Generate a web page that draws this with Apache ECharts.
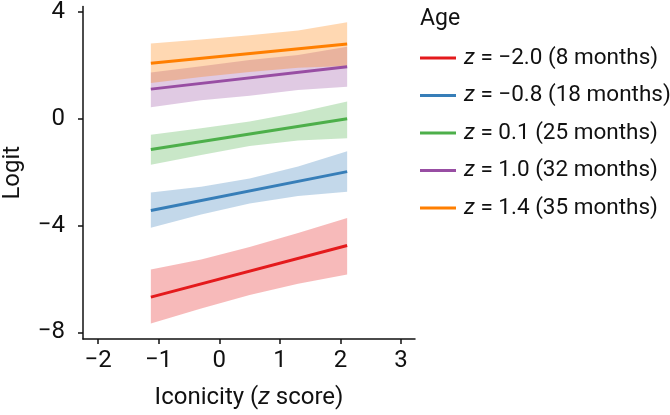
<!DOCTYPE html>
<html>
<head>
<meta charset="utf-8">
<script src="https://cdn.jsdelivr.net/npm/echarts@6/dist/echarts.min.js"></script>
<style>
html,body{margin:0;padding:0;background:#fff;}
#chart{width:670px;height:415px;}
</style>
</head>
<body>
<div id="chart"></div>
<script>
// ---- data ----
var ageLabels = ['z = \u22122.0 (8 months)', 'z = \u22120.8 (18 months)', 'z = 0.1 (25 months)', 'z = 1.0 (32 months)', 'z = 1.4 (35 months)'];
var colors = ['#E41A1C', '#377EB8', '#4DAF4A', '#984EA3', '#FF7F00'];
// fitted line endpoints (iconicity z from -1.13 to 2.11)
var lineX = [-1.13, 2.11];
var fitRed    = [-6.68, -4.75];
var fitBlue   = [-3.44, -1.98];
var fitGreen  = [-1.15, 0.00];
var fitPurple = [1.11, 1.95];
var fitOrange = [2.08, 2.80];
// confidence band (read at these x positions)
var bandX = [-1.13, -0.3, 0.5, 1.3, 2.11];
var loRed    = [-7.67, -7.11, -6.60, -6.18, -5.83];
var hiRed    = [-5.65, -5.27, -4.80, -4.28, -3.72];
var loBlue   = [-4.08, -3.59, -3.17, -2.89, -2.73];
var hiBlue   = [-2.76, -2.55, -2.24, -1.79, -1.22];
var loGreen  = [-1.72, -1.36, -1.02, -0.81, -0.73];
var hiGreen  = [-0.60, -0.36, -0.10, 0.23, 0.65];
var loPurple = [0.43, 0.69, 0.86, 1.08, 1.20];
var hiPurple = [1.73, 1.97, 2.20, 2.39, 2.70];
var loOrange = [1.34, 1.56, 1.75, 1.91, 1.98];
var hiOrange = [2.82, 2.97, 3.13, 3.31, 3.62];
var xTicks = [-2, -1, 0, 1, 2, 3];
var yTicks = [-8, -4, 0, 4];

var fits = [fitRed, fitBlue, fitGreen, fitPurple, fitOrange];
var los = [loRed, loBlue, loGreen, loPurple, loOrange];
var his = [hiRed, hiBlue, hiGreen, hiPurple, hiOrange];

var FONT = "Roboto, sans-serif";
var FS = 24;
var LFS = 22.5;
var TXT = '#111';

function bandSeries(i) {
  var data = bandX.map(function (x, k) { return [x, los[i][k], his[i][k]]; });
  return {
    type: 'custom',
    name: ageLabels[i] + ' band',
    z: 1,
    silent: true,
    data: data,
    encode: { x: 0, y: [1, 2] },
    renderItem: function (params, api) {
      if (params.dataIndex !== 0) return null;
      var pts = [];
      var k;
      for (k = 0; k < data.length; k++) pts.push(api.coord([data[k][0], data[k][1]]));
      for (k = data.length - 1; k >= 0; k--) pts.push(api.coord([data[k][0], data[k][2]]));
      return {
        type: 'polygon',
        shape: { points: pts },
        style: { fill: colors[i], opacity: 0.3 }
      };
    }
  };
}

function lineSeries(i) {
  return {
    type: 'line',
    name: ageLabels[i],
    z: 5,
    symbol: 'none',
    data: lineX.map(function (x, k) { return [x, fits[i][k]]; }),
    lineStyle: { color: colors[i], width: 3 },
    itemStyle: { color: colors[i] }
  };
}

var series = [];
for (var i = 0; i < 5; i++) series.push(bandSeries(i));
for (var j = 0; j < 5; j++) series.push(lineSeries(j));

function fmtNum(v) { return v < 0 ? '\u2212' + Math.abs(v) : String(v); }

var chart = echarts.init(document.getElementById('chart'), null, { renderer: 'canvas' });
chart.setOption({
  animation: false,
  backgroundColor: '#fff',
  textStyle: { fontFamily: FONT },
  title: {
    text: 'Age',
    left: 415,
    top: 3,
    textStyle: { fontFamily: FONT, fontSize: 23, fontWeight: 'normal', color: TXT }
  },
  legend: {
    data: ageLabels,
    orient: 'vertical',
    left: 415,
    top: 38,
    itemWidth: 36,
    itemHeight: 3,
    itemGap: 7.5,
    icon: 'rect',
    formatter: function (name) { return '{i|z}{n|' + name.slice(1) + '}'; },
    textStyle: {
      fontFamily: FONT, fontSize: LFS, color: TXT, lineHeight: 30,
      padding: [0, 0, 0, 3],
      rich: {
        i: { fontFamily: FONT, fontSize: LFS, fontStyle: 'italic', color: TXT, lineHeight: 30 },
        n: { fontFamily: FONT, fontSize: LFS, color: TXT, lineHeight: 30 }
      }
    }
  },
  grid: { left: 80.7, right: 255, top: 5, bottom: 75, containLabel: false },
  xAxis: {
    type: 'value',
    min: -2.25,
    max: 3.23,
    name: 'Iconicity ({i|z} score)',
    nameLocation: 'middle',
    nameGap: 47,
    nameTextStyle: {
      fontFamily: FONT, fontSize: FS, color: TXT,
      rich: { i: { fontFamily: FONT, fontSize: FS, fontStyle: 'italic', color: TXT } }
    },
    axisLine: { onZero: false, lineStyle: { color: TXT, width: 1.5 } },
    axisTick: { show: true, length: 5, lineStyle: { color: TXT, width: 1.5 }, customValues: xTicks },
    axisLabel: {
      customValues: xTicks, margin: 10, fontFamily: FONT, fontSize: FS, color: TXT,
      formatter: fmtNum
    },
    splitLine: { show: false }
  },
  yAxis: {
    type: 'value',
    min: -8.25,
    max: 4.21,
    name: 'Logit',
    nameLocation: 'middle',
    nameGap: 58,
    nameTextStyle: { fontFamily: FONT, fontSize: FS, color: TXT },
    axisLine: { show: true, onZero: false, lineStyle: { color: TXT, width: 1.5 } },
    axisTick: { show: true, length: 5, lineStyle: { color: TXT, width: 1.5 }, customValues: yTicks },
    axisLabel: {
      customValues: yTicks, margin: 18, fontFamily: FONT, fontSize: FS, color: TXT,
      formatter: fmtNum
    },
    splitLine: { show: false }
  },
  series: series
});
</script>
</body>
</html>
